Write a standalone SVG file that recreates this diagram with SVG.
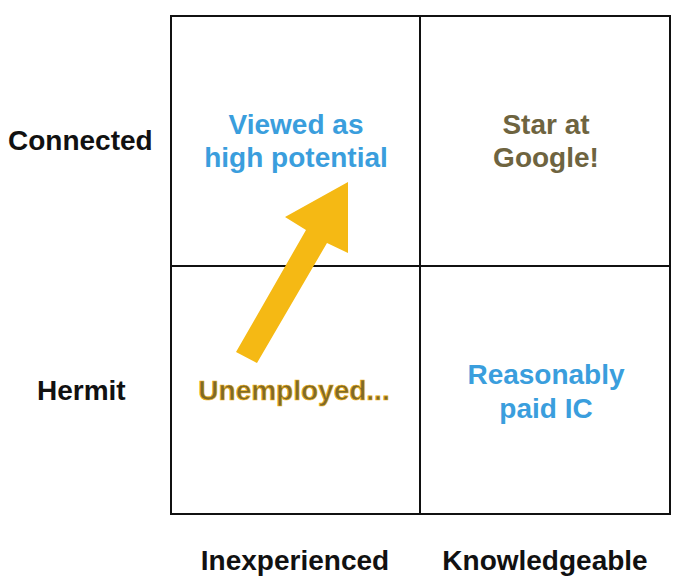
<svg xmlns="http://www.w3.org/2000/svg" width="686" height="584" viewBox="0 0 686 584">
<style>
text{font-family:"Liberation Sans",Arial,Helvetica,sans-serif;font-weight:bold;font-size:28px}
.axis{fill:#111}
.blue{fill:#3a9edd;text-anchor:middle}
.olive{fill:#6e6440;text-anchor:middle}
.gold{fill:#7e6a28;text-anchor:middle;stroke:#f2b51a;stroke-width:0.7}
.grid{fill:none;stroke:#111;stroke-width:2}
</style>
<rect width="686" height="584" fill="#fff"/>
<g id="grid">
<rect class="grid" x="171" y="16" width="499" height="498"/>
<line class="grid" x1="420" y1="16" x2="420" y2="514"/>
<line class="grid" x1="171" y1="266" x2="670" y2="266"/>
</g>
<g id="axis-labels">
<text class="axis" x="8" y="150">Connected</text>
<text class="axis" x="37" y="400">Hermit</text>
<text class="axis" x="295" y="570" text-anchor="middle">Inexperienced</text>
<text class="axis" x="545" y="570" text-anchor="middle">Knowledgeable</text>
</g>
<g id="q-viewed">
<text class="blue" x="296" y="134">Viewed as</text>
<text class="blue" x="296" y="167">high potential</text>
</g>
<g id="q-star">
<text class="olive" x="546" y="134">Star at</text>
<text class="olive" x="546" y="167">Google!</text>
</g>
<g id="q-unemployed">
<text class="gold" x="294" y="400">Unemployed...</text>
</g>
<g id="q-reasonably">
<text class="blue" x="546" y="384">Reasonably</text>
<text class="blue" x="546" y="418">paid IC</text>
</g>
<g id="connectors">
<polygon fill="#f5b914" points="348,182 348,253 327,243 257,363 236,352 306,230 285,217"/>
</g>
</svg>
